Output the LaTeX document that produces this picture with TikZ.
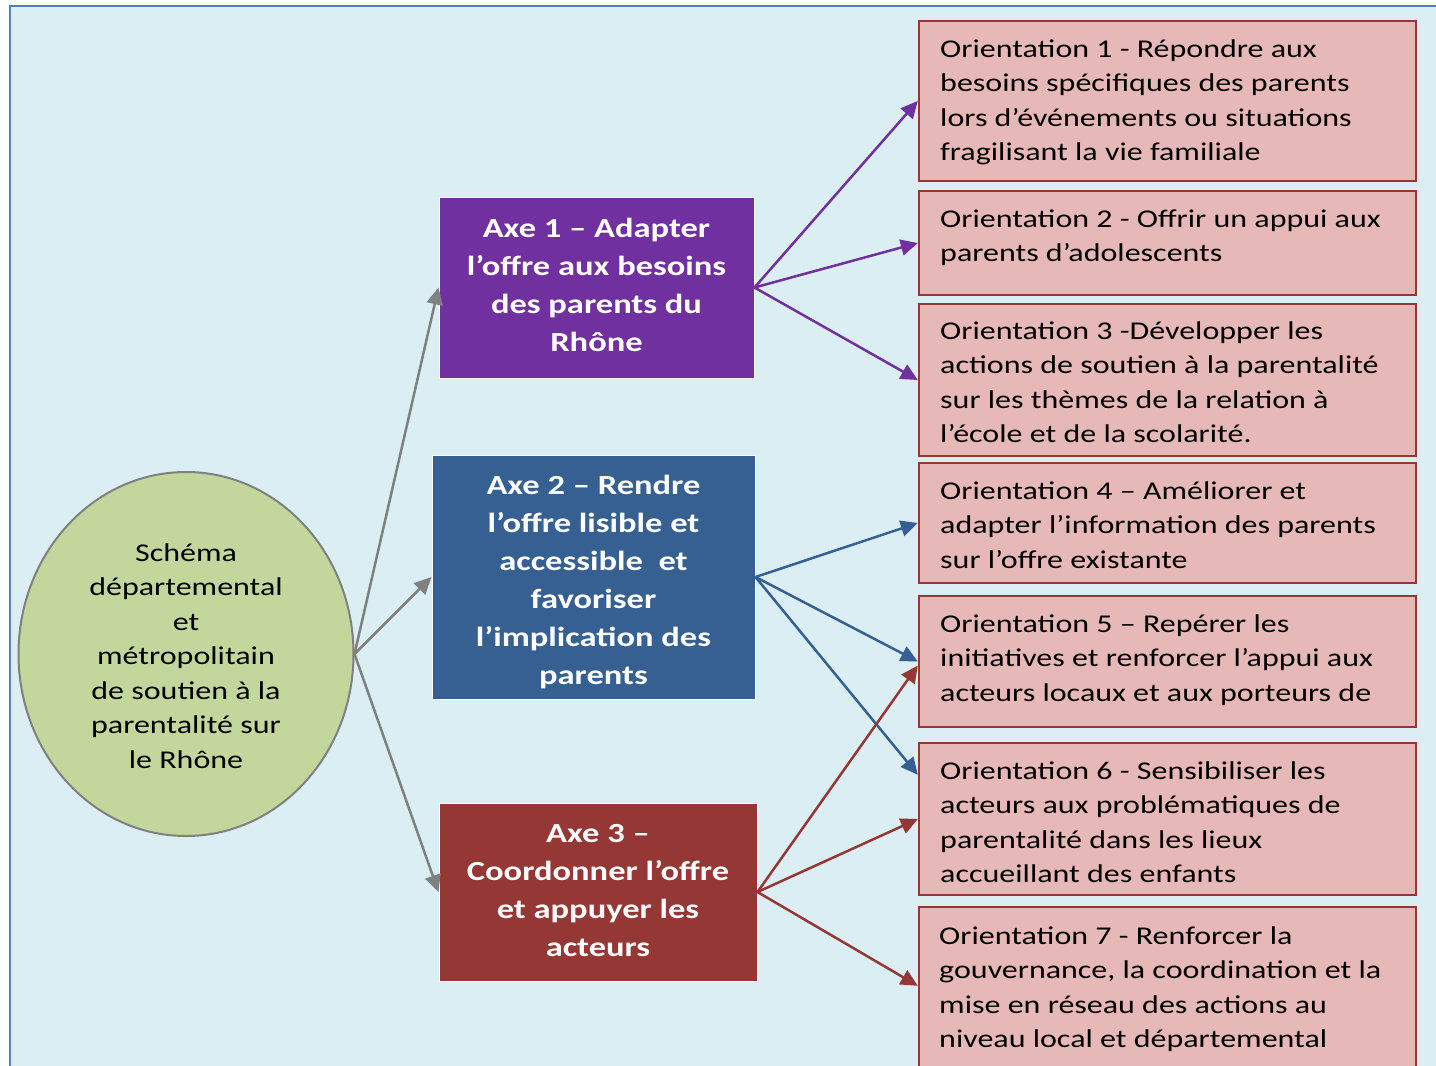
\documentclass[tikz,border=0pt]{standalone}
\usepackage{fontspec}
\setmainfont{Carlito}[FakeStretch=1.25]
\usetikzlibrary{shapes.geometric,arrows.meta,calc}
\definecolor{bgblue}{HTML}{DAEEF3}
\definecolor{bordblue}{HTML}{4F81BD}
\definecolor{ellfill}{HTML}{C3D69B}
\definecolor{grayline}{HTML}{808080}
\definecolor{axpurple}{HTML}{7030A0}
\definecolor{axblue}{HTML}{366092}
\definecolor{axred}{HTML}{953735}
\definecolor{orfill}{HTML}{E6B9B8}
\tikzset{
  axebox/.style={draw=white, line width=0.5pt, inner sep=0pt, text=white, align=center,
    font=\bfseries\fontsize{13.8}{19}\selectfont},
  orbox/.style={draw=axred, fill=orfill, line width=1.2pt, minimum width=248.5pt, inner sep=0pt},
  ortext/.style={anchor=north west, inner sep=0pt, align=left, text=black,
    font=\fontsize{12.8}{17.25}\selectfont},
  conn/.style={line width=1.25pt, -{Triangle[length=8.5pt,width=8pt]}},
}
\newcommand{\fl}{\rule{0pt}{14pt}}
\begin{document}
\begin{tikzpicture}[x=0.5pt,y=-0.5pt]
\clip (0,0) rectangle (1436,1066);
\useasboundingbox (0,0) rectangle (1436,1066);
\fill[white] (0,0) rectangle (1436,1066);
\draw[fill=bgblue, draw=bordblue, line width=1pt] (10,6) rectangle (1460,1090);

% central ellipse
\node[ellipse, draw=grayline, fill=ellfill, line width=1pt, minimum width=167.5pt, minimum height=182pt, inner sep=0pt] (ell) at (186,654) {};
\node[align=center, inner sep=0pt, font=\fontsize{12.8}{17.25}\selectfont] (elltext) at (186,656) {Schéma\\départemental\\et\\métropolitain\\de soutien à la\\parentalité sur\\le Rhône};

% axes
\node[axebox, fill=axpurple, minimum width=157.5pt, minimum height=90.5pt] (ax1) at (596.5,287.5) {};
\node[axebox, draw=none, fill=none] (ax1t) at (596.5,284.5) {Axe 1 – Adapter\\l’offre aux besoins\\des parents du\\Rhône};
\node[axebox, fill=axblue, minimum width=161.5pt, minimum height=122pt] (ax2) at (593.5,577) {};
\node[axebox, draw=none, fill=none] (ax2t) at (593.5,582) {Axe 2 – Rendre\\l’offre lisible et\\accessible\ \ et\\favoriser\\l’implication des\\parents};
\node[axebox, fill=axred, minimum width=159pt, minimum height=89pt] (ax3) at (598,892) {};
\node[axebox, draw=none, fill=none] (ax3t) at (598,890.5) {Axe 3 –\\Coordonner l’offre\\et appuyer les\\acteurs};

% orientations
\node[orbox, minimum height=80pt] (o1) at (1167.5,101) {};
\node[ortext] (o1t) at ($(o1.north west)+(22,9)$) {\fl Orientation 1 - Répondre aux\\besoins spécifiques des parents\\lors d’événements ou situations\\fragilisant la vie familiale};
\node[orbox, minimum height=52pt] (o2) at (1167.5,243) {};
\node[ortext] (o2t) at ($(o2.north west)+(22,9)$) {\fl Orientation 2 - Offrir un appui aux\\parents d’adolescents};
\node[orbox, minimum height=76pt] (o3) at (1167.5,380) {};
\node[ortext] (o3t) at ($(o3.north west)+(22,8)$) {\fl Orientation 3 -Développer les\\actions de soutien à la parentalité\\sur les thèmes de la relation à\\l’école et de la scolarité.};
\node[orbox, minimum height=60pt] (o4) at (1167.5,523) {};
\node[ortext] (o4t) at ($(o4.north west)+(22,9)$) {\fl Orientation 4 – Améliorer et\\adapter l’information des parents\\sur l’offre existante};
\node[orbox, minimum height=65.5pt] (o5) at (1167.5,661.5) {};
\node[ortext] (o5t) at ($(o5.north west)+(22,9)$) {\fl Orientation 5 – Repérer les\\initiatives et renforcer l’appui aux\\acteurs locaux et aux porteurs de};
\node[orbox, minimum height=76pt] (o6) at (1167.5,819) {};
\node[ortext] (o6t) at ($(o6.north west)+(22,9)$) {\fl Orientation 6 - Sensibiliser les\\acteurs aux problématiques de\\parentalité dans les lieux\\accueillant des enfants};
\node[orbox, minimum height=91.5pt] (o7) at (1167.5,998.5) {};
\node[ortext] (o7t) at ($(o7.north west)+(21,10)$) {\fl Orientation 7 - Renforcer la\\gouvernance, la coordination et la\\mise en réseau des actions au\\niveau local et départemental};

% connectors
\draw[conn, grayline] (ell.east) -- (ax1.west);
\draw[conn, grayline] (ell.east) -- (ax2.west);
\draw[conn, grayline] (ell.east) -- (ax3.west);

\draw[conn, axpurple] (ax1.east) -- (o1.west);
\draw[conn, axpurple] (ax1.east) -- (o2.west);
\draw[conn, axpurple] (ax1.east) -- (o3.west);

\draw[conn, axblue] (ax2.east) -- (o4.west);
\draw[conn, axblue] (ax2.east) -- (o5.west);
\draw[conn, axblue] (ax2.east) -- ([yshift=-16.5pt]o6.north west);

\draw[conn, axred] (ax3.east) -- ([yshift=-2pt]o5.west);
\draw[conn, axred] (ax3.east) -- (o6.west);
\draw[conn, axred] (ax3.east) -- ([yshift=-40pt]o7.north west);
\end{tikzpicture}
\end{document}
